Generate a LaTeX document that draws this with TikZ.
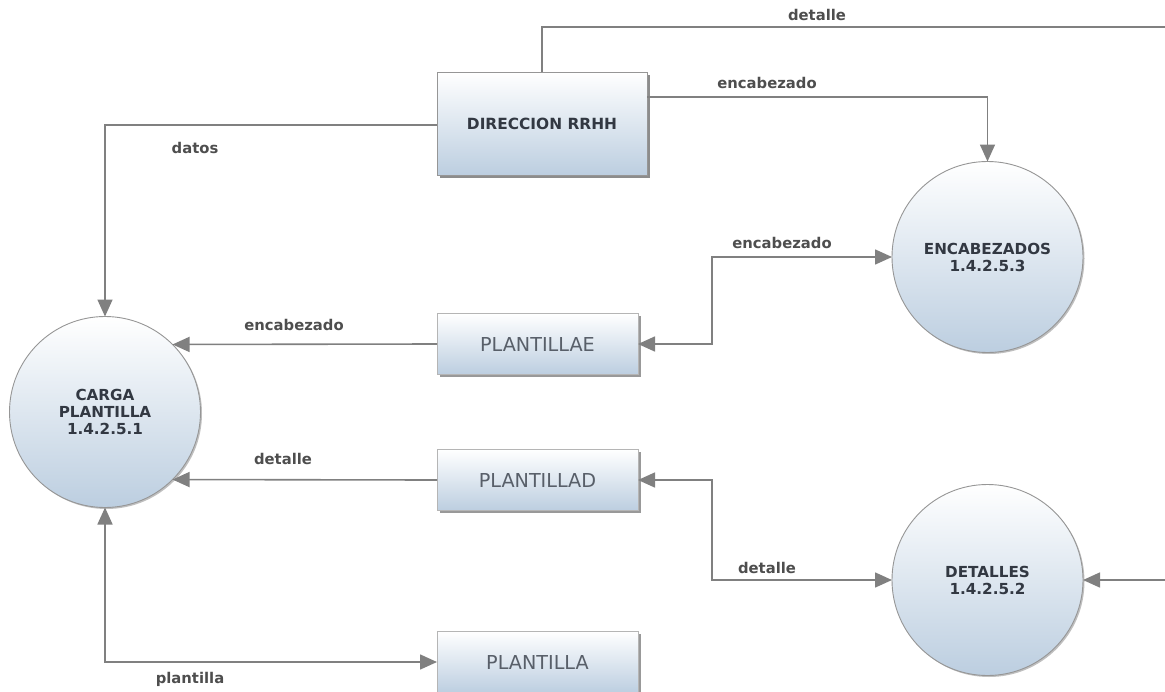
\documentclass[tikz,border=0pt]{standalone}
\usepackage{fontspec}
\setmainfont{DejaVu Sans}
\usetikzlibrary{arrows.meta,shadows,calc}
\definecolor{linegray}{RGB}{128,128,128}
\definecolor{fillblue}{RGB}{188,206,224}
\definecolor{edgegray}{RGB}{150,150,150}
\definecolor{txtdark}{RGB}{50,56,66}
\definecolor{txtbox}{RGB}{88,95,105}
\definecolor{lbltxt}{RGB}{78,78,78}

\begin{document}
\begin{tikzpicture}[x=1pt,y=-1pt,
  >={Triangle[length=17pt,width=15pt]},
  flow/.style={draw=linegray, line width=1.6pt},
  process/.style={circle, minimum size=191pt, inner sep=0pt, outer sep=0pt,
    draw=edgegray, line width=0.9pt, top color=white, bottom color=fillblue,
    drop shadow={shadow xshift=1.5pt, shadow yshift=-1.5pt, opacity=0.25, fill=black},
    font=\bfseries\fontsize{15.2}{17}\selectfont, text=txtdark, align=center},
  entity/.style={rectangle, minimum width=210pt, minimum height=103pt, inner sep=0pt, outer sep=0pt,
    draw=edgegray, line width=0.9pt, top color=white, bottom color=fillblue,
    drop shadow={shadow xshift=3pt, shadow yshift=-3pt, opacity=0.45, fill=black},
    font=\bfseries\fontsize{15.4}{17}\selectfont, text=txtdark},
  store/.style={rectangle, minimum width=201pt, minimum height=61pt, inner sep=0pt, outer sep=0pt,
    draw=edgegray!70, line width=0.8pt, top color=white, bottom color=fillblue,
    drop shadow={shadow xshift=2.5pt, shadow yshift=-2.5pt, opacity=0.4, fill=black},
    font=\fontsize{19.2}{21}\selectfont, text=txtbox},
  flowlabel/.style={font=\bfseries\fontsize{14.8}{16}\selectfont, text=lbltxt, inner sep=0pt}
]
\fill[white] (0,0) rectangle (1165,691);
\useasboundingbox (0,0) rectangle (1165,691);

% processes
\node[process] (carga) at (105,412) {CARGA\\PLANTILLA\\1.4.2.5.1};
\node[process] (enc)   at (987.5,257) {ENCABEZADOS\\1.4.2.5.3};
\node[process] (det)   at (987.5,580) {DETALLES\\1.4.2.5.2};

% external entity
\node[entity] (dir) at (542,123.5) {DIRECCION RRHH};

% data stores
\node[store] (pe) at (537.5,344) {PLANTILLAE};
\node[store] (pd) at (537.5,480) {PLANTILLAD};
\node[store, minimum height=62pt] (pl) at (537.5,662) {PLANTILLA};

% bend points and free ends
\coordinate (offtop)   at (1165,27);
\coordinate (offright) at (1165,580);
\coordinate (jE) at (712,344);
\coordinate (jD) at (712,480);

% flows from the entity
\draw[flow] (dir.north) |- (offtop);
\draw[flow,->] ([yshift=26.5pt]dir.east) -| (enc.north);
\draw[flow,->] ([yshift=-1.5pt]dir.west) -| (carga.north);

% flows between stores and processes
\draw[flow,->] (pe.west) -- (carga.45.7);
\draw[flow,->] (pd.west) -- (carga.-45.7);
\draw[flow,<->] (pe.east) -- (jE) |- (enc.west);
\draw[flow,<->] (pd.east) -- (jD) |- (det.west);
\draw[flow,<->] (carga.south) |- (pl.west);
\draw[flow,->] (offright) -- (det.east);

% flow labels
\node[flowlabel] (l1) at (817,15)  {detalle};
\node[flowlabel] (l2) at (767,83)  {encabezado};
\node[flowlabel] (l3) at (195,148) {datos};
\node[flowlabel] (l4) at (782,243) {encabezado};
\node[flowlabel] (l5) at (294,325) {encabezado};
\node[flowlabel] (l6) at (283,459) {detalle};
\node[flowlabel] (l7) at (767,568) {detalle};
\node[flowlabel] (l8) at (190,679) {plantilla};
\end{tikzpicture}
\end{document}
